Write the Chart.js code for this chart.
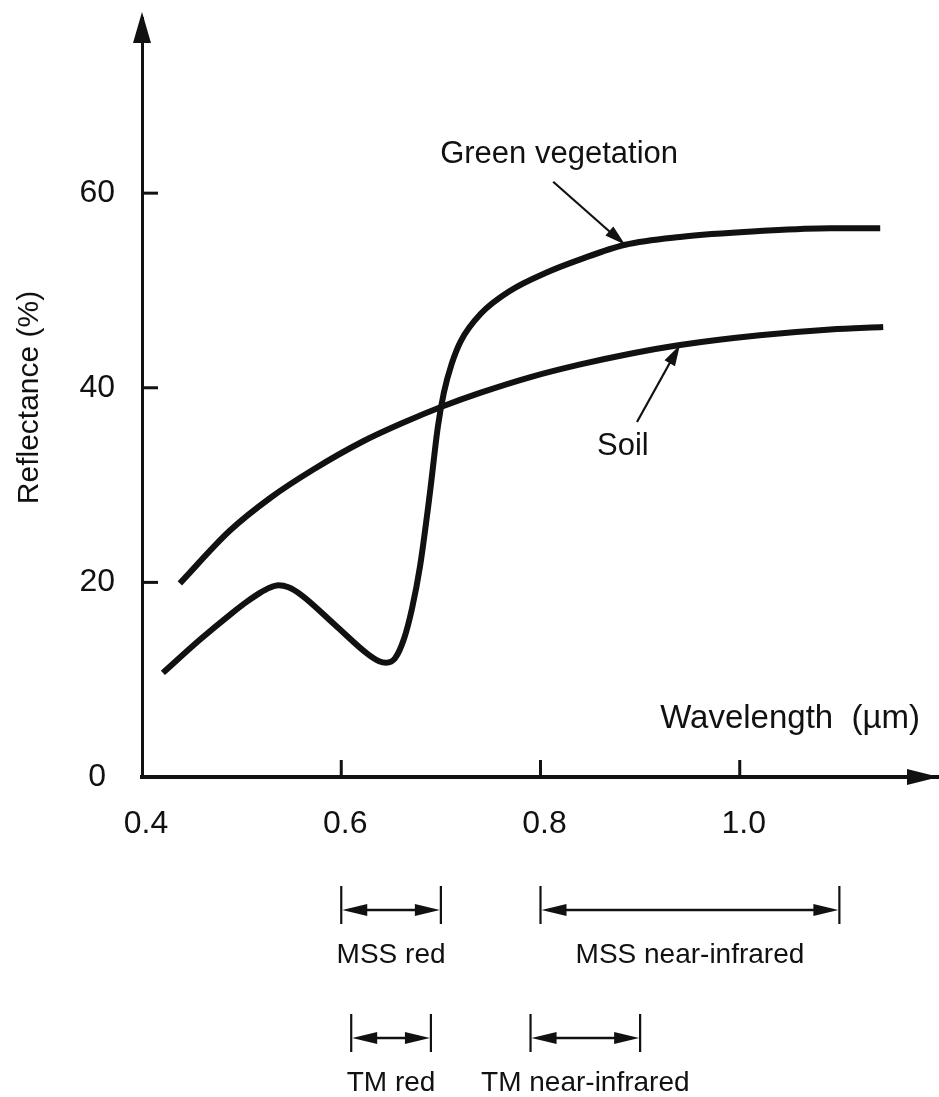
<!DOCTYPE html>
<html>
<head>
<meta charset="utf-8">
<script src="https://cdn.jsdelivr.net/npm/chart.js@4.4.0/dist/chart.umd.min.js"></script>
<style>
  html, body { margin: 0; padding: 0; background: #fff; }
</style>
</head>
<body>
<canvas id="myChart" width="939" height="1097"></canvas>
<script>
// reflectance curves, wavelength in µm, reflectance in %
var vegWavelength = [0.421, 0.458, 0.491, 0.505, 0.518, 0.528, 0.537, 0.547, 0.560,
  0.593, 0.627, 0.638, 0.645, 0.654, 0.663, 0.671, 0.679, 0.689, 0.697, 0.703,
  0.711, 0.720, 0.740, 0.770, 0.805, 0.840, 0.885, 0.940, 1.020, 1.091, 1.141];
var vegReflectance = [10.7, 14.1, 16.9, 18.0, 18.9, 19.45, 19.7, 19.5, 18.7,
  15.7, 12.6, 11.9, 11.75, 12.2, 14.2, 17.3, 21.6, 29.2, 36.0, 39.5,
  42.5, 44.8, 47.6, 50.0, 51.8, 53.2, 54.7, 55.5, 56.1, 56.4, 56.4];

var soilWavelength = [0.438, 0.488, 0.529, 0.572, 0.622, 0.662, 0.702, 0.740, 0.790,
  0.840, 0.890, 0.940, 1.020, 1.091, 1.144];
var soilReflectance = [19.9, 25.3, 28.7, 31.6, 34.5, 36.4, 38.1, 39.5, 41.1,
  42.4, 43.5, 44.4, 45.4, 46.0, 46.25];

var xTicks = [0.4, 0.6, 0.8, 1.0];
var yTicks = [0, 20, 40, 60];

// where the label arrows touch each curve
var vegArrowAt = 0.885;
var soilArrowAt = 0.940;

// sensor bands shown under the wavelength axis
var bandNames = ['MSS red', 'MSS near-infrared', 'TM red', 'TM near-infrared'];
var bandStart = [0.60, 0.80, 0.61, 0.79];
var bandEnd = [0.70, 1.10, 0.69, 0.90];

var ink = '#111';
var family = '"Liberation Sans", Arial, Helvetica, sans-serif';

function toPoints(xs, ys) {
  return xs.map(function (x, i) { return { x: x, y: ys[i] }; });
}

function line(ctx, x1, y1, x2, y2) {
  ctx.beginPath();
  ctx.moveTo(x1, y1);
  ctx.lineTo(x2, y2);
  ctx.stroke();
}

function arrowHead(ctx, tipX, tipY, fromX, fromY, len, half) {
  var a = Math.atan2(tipY - fromY, tipX - fromX);
  ctx.save();
  ctx.translate(tipX, tipY);
  ctx.rotate(a);
  ctx.beginPath();
  ctx.moveTo(0, 0);
  ctx.lineTo(-len, -half);
  ctx.lineTo(-len, half);
  ctx.closePath();
  ctx.fill();
  ctx.restore();
}

// keep the plot area where the axes are fixed, without label padding
function noPadding(s) {
  s.paddingTop = 0;
  s.paddingBottom = 0;
  s.paddingLeft = 0;
  s.paddingRight = 0;
}

var decorations = {
  id: 'decorations',
  afterDraw: function (chart) {
    var ctx = chart.ctx;
    var xs = chart.scales.x;
    var ys = chart.scales.y;
    var area = chart.chartArea;
    ctx.save();
    ctx.strokeStyle = ink;
    ctx.fillStyle = ink;

    // tick marks point into the plot
    ctx.lineWidth = 3;
    yTicks.forEach(function (v) {
      if (v === yTicks[0]) return;
      var py = ys.getPixelForValue(v);
      line(ctx, area.left, py, area.left + 16, py);
    });
    xTicks.forEach(function (v) {
      if (v === xTicks[0]) return;
      var px = xs.getPixelForValue(v);
      line(ctx, px, area.bottom, px, area.bottom - 17);
    });

    // arrowheads on both axes
    arrowHead(ctx, area.left, area.top - 6, area.left, area.top + 20, 31, 9);
    arrowHead(ctx, area.right, area.bottom, area.right - 40, area.bottom, 32, 8);

    ctx.font = '33px ' + family;
    ctx.textBaseline = 'alphabetic';
    ctx.textAlign = 'right';
    ctx.fillText('Wavelength  (\u00b5m)', area.right - 19, area.bottom - 49);

    // curve labels with pointer arrows
    var vegPt = chart.getDatasetMeta(0).data[vegWavelength.indexOf(vegArrowAt)];
    var soilPt = chart.getDatasetMeta(1).data[soilWavelength.indexOf(soilArrowAt)];
    ctx.lineWidth = 2.2;
    ctx.font = '31px ' + family;
    ctx.textAlign = 'left';

    line(ctx, vegPt.x - 72, vegPt.y - 63, vegPt.x - 12, vegPt.y - 10);
    arrowHead(ctx, vegPt.x, vegPt.y, vegPt.x - 72, vegPt.y - 63, 21, 6);
    ctx.fillText('Green vegetation', vegPt.x - 185, vegPt.y - 82);

    line(ctx, soilPt.x - 43, soilPt.y + 77, soilPt.x - 8, soilPt.y + 14);
    arrowHead(ctx, soilPt.x, soilPt.y, soilPt.x - 43, soilPt.y + 77, 21, 6);
    ctx.fillText('Soil', soilPt.x - 83, soilPt.y + 110);

    // band ranges: MSS on the first row, TM on the second
    ctx.font = '28px ' + family;
    ctx.textAlign = 'center';
    bandNames.forEach(function (name, i) {
      var rowY = area.bottom + (name.indexOf('TM') === 0 ? 261 : 133);
      var x1 = xs.getPixelForValue(bandStart[i]);
      var x2 = xs.getPixelForValue(bandEnd[i]);
      ctx.lineWidth = 2.2;
      line(ctx, x1, rowY - 24, x1, rowY + 14);
      line(ctx, x2, rowY - 24, x2, rowY + 14);
      ctx.lineWidth = 2.6;
      line(ctx, x1 + 10, rowY, x2 - 10, rowY);
      arrowHead(ctx, x1 + 1, rowY, x2, rowY, 25, 6);
      arrowHead(ctx, x2 - 1, rowY, x1, rowY, 25, 6);
      ctx.fillText(name, (x1 + x2) / 2, rowY + 53);
    });

    ctx.restore();
  }
};

var ctx = document.getElementById('myChart').getContext('2d');
var myChart = new Chart(ctx, {
  type: 'scatter',
  data: {
    datasets: [{
      label: 'Green vegetation',
      data: toPoints(vegWavelength, vegReflectance),
      showLine: true,
      borderColor: ink,
      borderWidth: 6,
      pointRadius: 0,
      cubicInterpolationMode: 'monotone'
    }, {
      label: 'Soil',
      data: toPoints(soilWavelength, soilReflectance),
      showLine: true,
      borderColor: ink,
      borderWidth: 6,
      pointRadius: 0,
      cubicInterpolationMode: 'monotone'
    }]
  },
  options: {
    responsive: false,
    animation: false,
    layout: { padding: { top: 18, left: 0, right: 0, bottom: 0 } },
    plugins: {
      legend: { display: false },
      tooltip: { enabled: false }
    },
    scales: {
      x: {
        type: 'linear',
        min: 0.4,
        max: 1.2,
        grid: { display: false },
        border: { display: true, color: ink, width: 4 },
        ticks: {
          color: ink,
          font: { family: family, size: 32 },
          padding: 20,
          labelOffset: 4,
          maxRotation: 0,
          callback: function (v) { return v.toFixed(1); }
        },
        afterBuildTicks: function (s) {
          s.ticks = xTicks.map(function (v) { return { value: v }; });
        },
        afterFit: function (s) {
          s.height = 320;
          noPadding(s);
        }
      },
      y: {
        min: 0,
        max: 78,
        grid: { display: false },
        border: { display: true, color: ink, width: 3 },
        ticks: {
          color: ink,
          font: { family: family, size: 32 },
          padding: 19,
          crossAlign: 'center'
        },
        afterBuildTicks: function (s) {
          s.ticks = yTicks.map(function (v) { return { value: v }; });
        },
        title: {
          display: true,
          text: 'Reflectance (%)',
          color: ink,
          font: { family: family, size: 30 },
          padding: { top: 12, bottom: 0 }
        },
        afterFit: function (s) {
          s.width = 142;
          noPadding(s);
        }
      }
    }
  },
  plugins: [decorations]
});
</script>
</body>
</html>
